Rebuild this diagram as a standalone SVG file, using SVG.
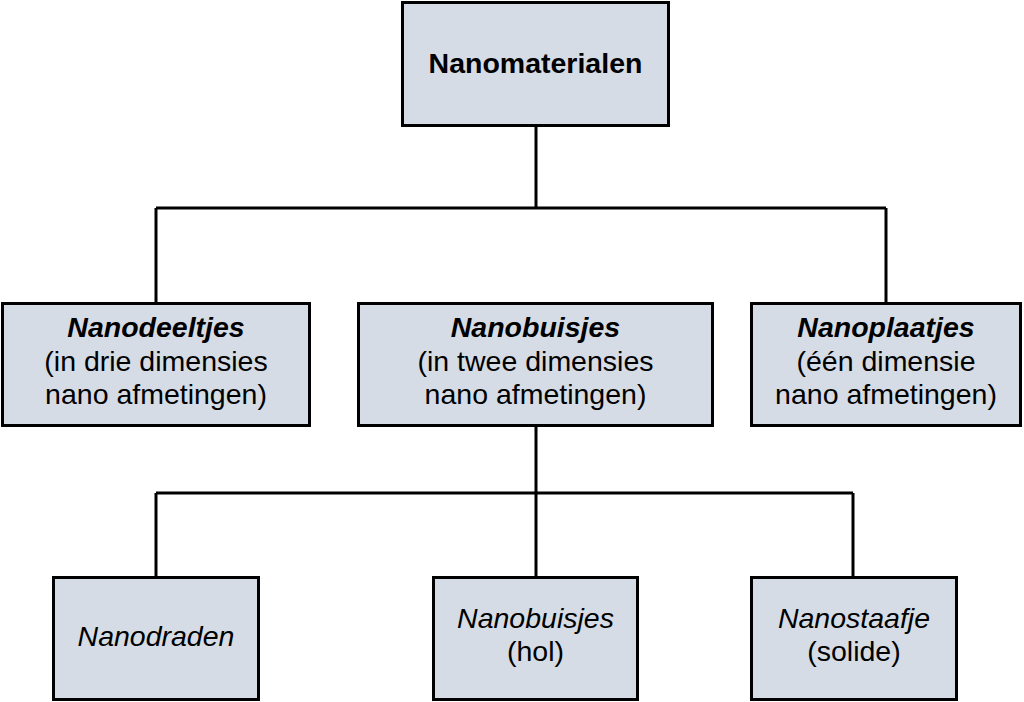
<svg xmlns="http://www.w3.org/2000/svg" width="1024" height="702" viewBox="0 0 1024 702">
<style>
.box{fill:#d6dce5;stroke:#000;stroke-width:3}
.t{font-family:"Liberation Sans",Arial,sans-serif;font-size:28.5px;fill:#000;text-anchor:middle}
.b{font-weight:bold}
.i{font-style:italic}
.c{fill:none;stroke:#000;stroke-width:3}
</style>
<rect width="1024" height="702" fill="#fff"/>
<g id="connectors">
<path class="c" d="M536 126V208M156 208H886M156 208V303M886 208V303"/>
<path class="c" d="M536 426V493M156 493H853M156 493V577M536 493V577M853 493V577"/>
</g>
<g id="nanomaterialen">
<rect class="box" x="402.5" y="2.5" width="266" height="123"/>
<text class="t b" x="535.5" y="73">Nanomaterialen</text>
</g>
<g id="nanodeeltjes">
<rect class="box" x="2.5" y="303.5" width="307" height="122"/>
<text class="t"><tspan class="b i" x="156" y="337">Nanodeeltjes</tspan><tspan x="156" y="371">(in drie dimensies</tspan><tspan x="156" y="404">nano afmetingen)</tspan></text>
</g>
<g id="nanobuisjes-mid">
<rect class="box" x="358.5" y="303.5" width="354" height="122"/>
<text class="t"><tspan class="b i" x="535.5" y="337">Nanobuisjes</tspan><tspan x="535.5" y="371">(in twee dimensies</tspan><tspan x="535.5" y="404">nano afmetingen)</tspan></text>
</g>
<g id="nanoplaatjes">
<rect class="box" x="751.5" y="303.5" width="269" height="122"/>
<text class="t"><tspan class="b i" x="886" y="337">Nanoplaatjes</tspan><tspan x="886" y="371">(één dimensie</tspan><tspan x="886" y="404">nano afmetingen)</tspan></text>
</g>
<g id="nanodraden">
<rect class="box" x="53.5" y="577.5" width="205" height="122"/>
<text class="t i" x="156" y="646">Nanodraden</text>
</g>
<g id="nanobuisjes-hol">
<rect class="box" x="433.5" y="577.5" width="204" height="122"/>
<text class="t"><tspan class="i" x="535.5" y="628">Nanobuisjes</tspan><tspan x="535.5" y="661">(hol)</tspan></text>
</g>
<g id="nanostaafje">
<rect class="box" x="751.5" y="577.5" width="205" height="122"/>
<text class="t"><tspan class="i" x="854" y="628">Nanostaafje</tspan><tspan x="854" y="661">(solide)</tspan></text>
</g>
</svg>
